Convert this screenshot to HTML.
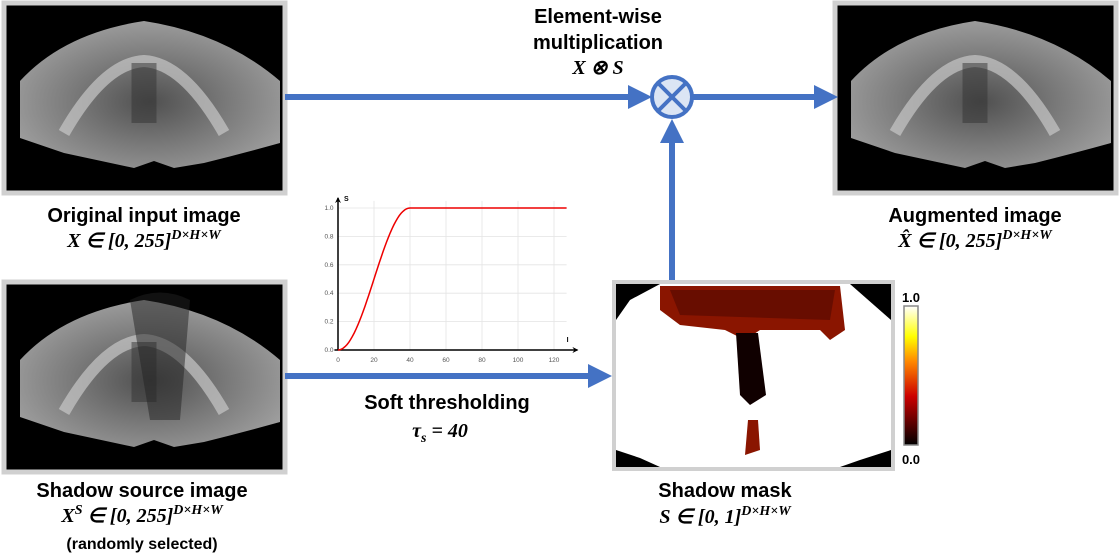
<!DOCTYPE html>
<html><head><meta charset="utf-8"><style>
body{margin:0;background:#fff;}
svg{display:block;font-family:"Liberation Sans",Arial,sans-serif;}
.t{font-weight:bold;font-size:20px;fill:#000;text-anchor:middle}
.m{font-family:"Liberation Serif",serif;font-weight:bold;font-style:italic;font-size:20px;text-anchor:middle}
.tk{font-size:6.5px;fill:#555;text-anchor:middle}
</style></head><body>
<svg width="1120" height="559" viewBox="0 0 1120 559">
<defs>
<radialGradient id="us" cx="0.5" cy="0.55" r="0.6">
<stop offset="0" stop-color="#505050"/><stop offset="0.5" stop-color="#7a7a7a"/><stop offset="1" stop-color="#a2a2a2"/></radialGradient>
<marker id="ah" markerWidth="4" markerHeight="4" refX="2" refY="2" orient="auto" markerUnits="strokeWidth"><path d="M0,0 L4,2 L0,4z" fill="#4472c4"/></marker>
<marker id="ka" markerWidth="6" markerHeight="6" refX="5" refY="3" orient="auto" markerUnits="userSpaceOnUse"><path d="M0,0 L6,3 L0,6 L2,3z" fill="#000"/></marker>
<g id="usimg">
<rect x="0" y="0" width="281" height="190" fill="#000" stroke="#d0d0d0" stroke-width="5"/>
<path d="M16,78 Q60,30 140,18 Q220,30 276,78 L276,140 Q240,150 200,160 L170,165 L150,158 L130,165 L60,150 L16,135Z" fill="url(#us)"/>
<path d="M60,130 Q100,60 140,58 Q180,60 220,130" fill="none" stroke="#c8c8c8" stroke-width="12" opacity="0.7"/>
<path d="M140,60 L140,120" stroke="#333" stroke-width="25" opacity="0.5"/>
</g>
</defs>

<use href="#usimg" x="4" y="3"/>
<use href="#usimg" x="835" y="3"/>
<g>
<use href="#usimg" x="4" y="282"/>
<path d="M130,300 Q160,285 190,300 L180,420 L150,420Z" fill="#222" opacity="0.5"/>
</g>

<line x1="285" y1="97" x2="640" y2="97" stroke="#4472c4" stroke-width="6" marker-end="url(#ah)"/>
<line x1="692" y1="97" x2="826" y2="97" stroke="#4472c4" stroke-width="6" marker-end="url(#ah)"/>
<line x1="672" y1="280" x2="672" y2="131" stroke="#4472c4" stroke-width="6" marker-end="url(#ah)"/>
<line x1="285" y1="376" x2="600" y2="376" stroke="#4472c4" stroke-width="6" marker-end="url(#ah)"/>
<g>
<circle cx="672" cy="97" r="20" fill="#dbe5f4" stroke="#4472c4" stroke-width="4"/>
<line x1="658" y1="83" x2="686" y2="111" stroke="#4472c4" stroke-width="4"/>
<line x1="686" y1="83" x2="658" y2="111" stroke="#4472c4" stroke-width="4"/>
</g>

<g>
<rect x="614" y="282" width="279" height="187" fill="#fff" stroke="#d0d0d0" stroke-width="4"/>
<path d="M616,284 L660,284 L630,300 L616,320Z" fill="#000"/>
<path d="M850,284 L891,284 L891,320Z" fill="#000"/>
<path d="M616,450 L640,458 L660,467 L616,467Z" fill="#000"/>
<path d="M891,450 L860,460 L840,467 L891,467Z" fill="#000"/>
<path d="M660,286 L840,286 L845,330 L830,340 L820,330 L760,330 L745,340 L725,330 L680,325 L660,310Z" fill="#8a1500"/>
<path d="M670,290 L835,290 L830,320 L680,315Z" fill="#5a0a00" opacity="0.7"/>
<path d="M736,333 L758,333 L766,395 L750,405 L740,395Z" fill="#100000"/>
<path d="M748,420 L758,420 L760,450 L745,455Z" fill="#8a1500"/>
</g>
<g>
<defs><linearGradient id="hot" x1="0" y1="1" x2="0" y2="0"><stop offset="0" stop-color="#000"/><stop offset="0.35" stop-color="#c00"/><stop offset="0.6" stop-color="#f80"/><stop offset="0.78" stop-color="#ff0"/><stop offset="1" stop-color="#fff"/></linearGradient></defs>
<rect x="904" y="306" width="14" height="139" fill="url(#hot)" stroke="#888" stroke-width="1.5"/>
<text x="911" y="302" font-size="13" font-weight="bold" text-anchor="middle">1.0</text>
<text x="911" y="464" font-size="13" font-weight="bold" text-anchor="middle">0.0</text>
</g>

<g id="chart"></g>

<text class="t" x="598" y="23">Element-wise</text>
<text class="t" x="598" y="49">multiplication</text>
<text class="m" x="598" y="74">X ⊗ S</text>
<text class="t" x="144" y="222">Original input image</text>
<text class="m" x="144" y="247">X ∈ [0, 255]<tspan font-size="14" dy="-8">D×H×W</tspan></text>
<text class="t" x="975" y="222">Augmented image</text>
<text class="m" x="975" y="247">X̂ ∈ [0, 255]<tspan font-size="14" dy="-8">D×H×W</tspan></text>
<text class="t" x="142" y="497">Shadow source image</text>
<text class="m" x="142" y="522">X<tspan font-size="14" dy="-8">S</tspan><tspan dy="8"> ∈ [0, 255]</tspan><tspan font-size="14" dy="-8">D×H×W</tspan></text>
<text class="t" x="142" y="549" style="font-size:16px">(randomly selected)</text>
<text class="t" x="447" y="409">Soft thresholding</text>
<text class="m" x="440" y="437">τ<tspan font-size="14" dy="5">s</tspan><tspan dy="-5"> = 40</tspan></text>
<text class="t" x="725" y="497">Shadow mask</text>
<text class="m" x="725" y="523">S ∈ [0, 1]<tspan font-size="14" dy="-8">D×H×W</tspan></text>
</svg>
<script>
const xTicks=[0,20,40,60,80,100,120];
const yTicks=[0,0.2,0.4,0.6,0.8,1.0];
const tau=[40];
const NS="http://www.w3.org/2000/svg";
const g=document.getElementById('chart');
const X=v=>338+v*1.8, Y=v=>350-v*142;
function mk(t,a){const e=document.createElementNS(NS,t);for(const k in a)e.setAttribute(k,a[k]);g.appendChild(e);return e;}
xTicks.forEach(v=>{if(v>0){const l=mk('line',{x1:X(v),x2:X(v),y1:Y(0),y2:Y(1.05),stroke:'#e4e4e4','stroke-width':0.8});

}
const t=mk('text',{x:X(v),y:Y(0)+12,class:'tk'});t.textContent=v;

});
yTicks.forEach(v=>{if(v>0){const l=mk('line',{x1:X(0),x2:X(127),y1:Y(v),y2:Y(v),stroke:'#e4e4e4','stroke-width':0.8});

}
const t=mk('text',{x:X(0)-9,y:Y(v)+2,class:'tk'});t.textContent=v.toFixed(1);

});
const xa=mk('line',{x1:X(-2),x2:X(133),y1:Y(0),y2:Y(0),stroke:'#000','stroke-width':1.5,'marker-end':'url(#ka)'});


const ya=mk('line',{x1:X(0),x2:X(0),y1:Y(0),y2:Y(1.07),stroke:'#000','stroke-width':1.5,'marker-end':'url(#ka)'});


const sl=mk('text',{x:X(0)+6,y:Y(1.05),'font-size':7,'font-weight':'bold'});sl.textContent='S';


const il=mk('text',{x:X(127),y:Y(0)-8,'font-size':7,'font-weight':'bold'});il.textContent='I';


let d='';for(let i=0;i<=127;i++){const s=i>=tau[0]?1:(1-Math.cos(Math.PI*i/tau[0]))/2;d+=(i?'L':'M')+X(i).toFixed(1)+','+Y(s).toFixed(1);}
const c=mk('path',{d:d,fill:'none',stroke:'#e00','stroke-width':1.5});


</script>
</body></html>
